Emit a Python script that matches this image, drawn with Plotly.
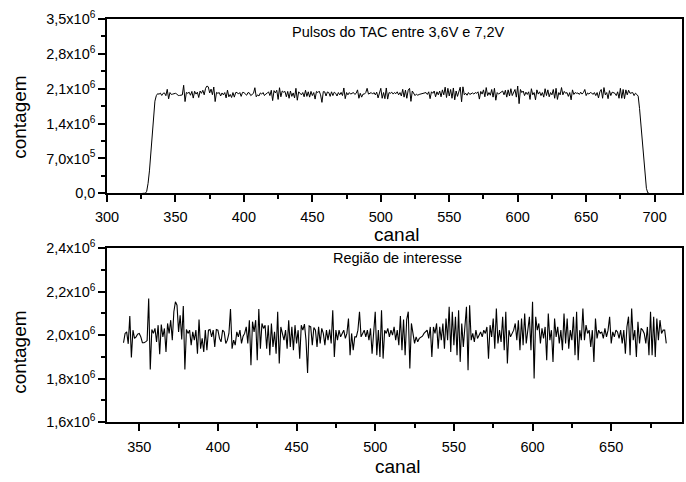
import plotly.graph_objects as go
from plotly.subplots import make_subplots

# Região de interesse: canais 340-685
canal_regiao = list(range(340, 686))
contagem_regiao = [
    1965000, 2008000, 2015000, 1960000, 2088000, 1897000, 2023000, 1985000, 1992000, 2005000,
    2008000, 1992000, 1965000, 1965000, 1969000, 1975000, 2169000, 1842000, 2026000, 2008000,
    2031000, 1969000, 2046000, 1912000, 2049000, 1992000, 2031000, 1923000, 2054000, 2008000,
    2069000, 1977000, 2108000, 2154000, 2138000, 2015000, 2092000, 1980000, 2134000, 1842000,
    2026000, 2008000, 2023000, 1954000, 2015000, 1977000, 2023000, 1915000, 2072000, 1938000,
    1985000, 1923000, 2023000, 1931000, 2023000, 2026000, 1992000, 2023000, 1946000, 2026000,
    2023000, 1985000, 1969000, 2023000, 2015000, 1962000, 1977000, 2008000, 2120000, 1938000,
    1977000, 1954000, 2015000, 1992000, 2023000, 1962000, 1995000, 2008000, 2038000, 1962000,
    2069000, 1862000, 2062000, 2015000, 2069000, 1885000, 2120000, 1938000, 2054000, 2031000,
    2046000, 1938000, 2046000, 1908000, 2054000, 1946000, 2015000, 1915000, 2108000, 1869000,
    2038000, 2008000, 1977000, 2023000, 1938000, 2069000, 1946000, 2038000, 1931000, 2046000,
    1962000, 2023000, 1892000, 2046000, 2023000, 2051000, 1977000, 1826000, 2042000, 2038000,
    1954000, 2035000, 2023000, 1946000, 2038000, 1962000, 2031000, 2008000, 1954000, 2023000,
    1977000, 2026000, 1962000, 2115000, 1900000, 2023000, 1977000, 2023000, 1992000, 2008000,
    2023000, 1985000, 2008000, 2077000, 1908000, 2008000, 1931000, 1992000, 1992000, 2023000,
    2108000, 1992000, 2008000, 2023000, 1992000, 2023000, 1977000, 2031000, 1915000, 2008000,
    2108000, 1908000, 2023000, 1900000, 2115000, 1892000, 2023000, 2008000, 2031000, 1992000,
    2023000, 2000000, 2038000, 1977000, 2023000, 1954000, 2088000, 1931000, 2072000, 1908000,
    2072000, 2108000, 1846000, 2054000, 2008000, 1962000, 1992000, 1969000, 1985000, 1992000,
    1995000, 2008000, 2015000, 2023000, 1985000, 2038000, 1900000, 2038000, 2008000, 2054000,
    1938000, 2038000, 1977000, 2054000, 1938000, 2077000, 1977000, 2131000, 1923000, 2108000,
    1954000, 2085000, 1908000, 2115000, 1877000, 2054000, 1946000, 2023000, 2131000, 1838000,
    2138000, 1977000, 2008000, 1969000, 2023000, 1985000, 2000000, 2015000, 1992000, 2023000,
    2008000, 2038000, 1892000, 2046000, 1992000, 2077000, 1938000, 2123000, 1962000, 2023000,
    1969000, 2085000, 1931000, 2108000, 1869000, 2023000, 1992000, 2008000, 2023000, 2054000,
    1977000, 2069000, 1931000, 2077000, 1954000, 2100000, 1962000, 2023000, 2085000, 1931000,
    2154000, 1800000, 2085000, 2023000, 2054000, 1962000, 2031000, 1985000, 2038000, 1885000,
    2100000, 1977000, 2023000, 1877000, 2077000, 1992000, 2038000, 1962000, 2023000, 1931000,
    2100000, 1962000, 2077000, 1938000, 2023000, 1977000, 2085000, 1908000, 2108000, 1885000,
    2023000, 1977000, 2123000, 1977000, 2046000, 2008000, 2023000, 1946000, 2023000, 1877000,
    2077000, 1985000, 2023000, 2008000, 2015000, 1985000, 2031000, 1992000, 2023000, 2085000,
    1962000, 2015000, 1992000, 2023000, 2015000, 1985000, 2023000, 1962000, 2023000, 1915000,
    2038000, 2085000, 1908000, 2123000, 1977000, 2023000, 1900000, 2062000, 1962000, 2031000,
    2023000, 2008000, 1962000, 2038000, 1908000, 2108000, 1908000, 2085000, 1900000, 2077000,
    1977000, 2069000, 2008000, 2023000, 2023000, 1962000,
]

# Bordas do espectro completo
canal_subida = [326, 327, 328, 329, 330, 331, 332, 333, 334, 335, 336, 337, 338, 339]
contagem_subida = [0, 0, 0, 40000, 200000, 450000, 800000, 1200000, 1580000, 1850000,
                   1960000, 2000000, 1990000, 2012000]
canal_descida = [686, 687, 688, 689, 690, 691, 692, 693, 694, 695, 696]
contagem_descida = [2010000, 1985000, 1950000, 1700000, 1350000, 1000000, 650000,
                    330000, 100000, 10000, 0]

canal_espectro = canal_subida + canal_regiao + canal_descida
contagem_espectro = contagem_subida + contagem_regiao + contagem_descida

# Rótulos dos eixos
ticks_y_sup = [0, 700000, 1400000, 2100000, 2800000, 3500000]
rotulos_y_sup = ["0,0", "7,0x10<sup>5</sup>", "1,4x10<sup>6</sup>", "2,1x10<sup>6</sup>",
                 "2,8x10<sup>6</sup>", "3,5x10<sup>6</sup>"]
ticks_y_inf = [1600000, 1800000, 2000000, 2200000, 2400000]
rotulos_y_inf = ["1,6x10<sup>6</sup>", "1,8x10<sup>6</sup>", "2,0x10<sup>6</sup>",
                 "2,2x10<sup>6</sup>", "2,4x10<sup>6</sup>"]

FONTE = "Arial, Liberation Sans, sans-serif"

fig = make_subplots(rows=2, cols=1, vertical_spacing=0.1365)

fig.add_trace(go.Scatter(x=canal_espectro, y=contagem_espectro, mode="lines",
                         line=dict(color="black", width=1), showlegend=False),
              row=1, col=1)
fig.add_trace(go.Scatter(x=canal_regiao, y=contagem_regiao, mode="lines",
                         line=dict(color="black", width=1.1), showlegend=False),
              row=2, col=1)

eixo = dict(showline=True, linecolor="black", linewidth=1.5, mirror=True,
            ticks="outside", ticklen=7, tickwidth=1.5, tickcolor="black",
            showgrid=False, zeroline=False,
            tickfont=dict(family=FONTE, size=14.5, color="black"))

fig.update_xaxes(**eixo, range=[300, 720], tick0=300, dtick=50,
                 ticklabelstandoff=3,
                 minor=dict(ticks="outside", ticklen=4, dtick=25, tick0=300,
                            tickcolor="black", tickwidth=1.5),
                 domain=[0, 1], row=1, col=1)
fig.update_yaxes(**eixo, range=[0, 3500000], tickvals=ticks_y_sup, ticktext=rotulos_y_sup,
                 minor=dict(ticks="outside", ticklen=4, dtick=350000, tick0=0,
                            tickcolor="black", tickwidth=1.5),
                 domain=[0.5675, 1], row=1, col=1)
fig.update_xaxes(**eixo, range=[329.5, 695], tick0=350, dtick=50,
                 ticklabelstandoff=4,
                 minor=dict(ticks="outside", ticklen=4, dtick=25, tick0=350,
                            tickcolor="black", tickwidth=1.5),
                 domain=[0, 1], row=2, col=1)
fig.update_yaxes(**eixo, range=[1600000, 2400000], tickvals=ticks_y_inf, ticktext=rotulos_y_inf,
                 minor=dict(ticks="outside", ticklen=4, dtick=100000, tick0=1600000,
                            tickcolor="black", tickwidth=1.5),
                 domain=[0, 0.431], row=2, col=1)

anotacoes = [
    dict(text="Pulsos do TAC entre 3,6V e 7,2V", xref="x domain", yref="y domain",
         x=0.507, y=0.927, font=dict(size=14.5)),
    dict(text="Região de interesse", xref="x2 domain", yref="y2 domain",
         x=0.506, y=0.944, font=dict(size=14.5)),
    dict(text="canal", xref="x domain", yref="y domain", x=0.504, y=-0.236,
         font=dict(size=19)),
    dict(text="canal", xref="x2 domain", yref="y2 domain", x=0.506, y=-0.255,
         font=dict(size=19)),
    dict(text="contagem", xref="x domain", yref="y domain", x=0, xshift=-87,
         y=0.433, textangle=-90, font=dict(size=19)),
    dict(text="contagem", xref="x2 domain", yref="y2 domain", x=0, xshift=-87,
         y=0.398, textangle=-90, font=dict(size=19)),
]
for a in anotacoes:
    a["font"].update(family=FONTE, color="black")
    fig.add_annotation(**a, showarrow=False, xanchor="center", yanchor="middle")

fig.update_layout(width=686, height=482, margin=dict(l=107, r=2, t=19, b=60),
                  paper_bgcolor="white", plot_bgcolor="white",
                  font=dict(family=FONTE, color="black"))

fig.write_html("out.html")
